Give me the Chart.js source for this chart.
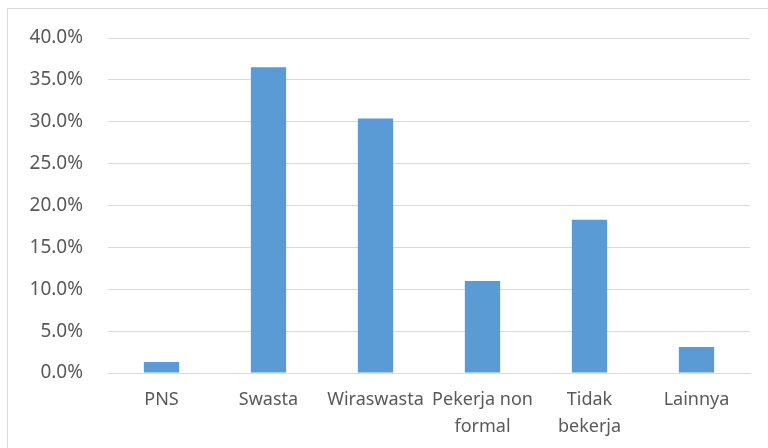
<!DOCTYPE html>
<html>
<head>
<meta charset="utf-8">
<script src="https://cdn.jsdelivr.net/npm/chart.js@4"></script>
<style>
  body { margin: 0; background: #fff; }
  .wrap { position: relative; width: 768px; height: 448px; overflow: hidden; }
  .frame { position: absolute; left: 7px; top: 8px; width: 800px; height: 500px; border: 1px solid #d9d9d9; }
  canvas { position: absolute; left: 0; top: 0; }
</style>
</head>
<body>
<div class="wrap">
  <div class="frame"></div>
  <canvas id="chart" width="768" height="448"></canvas>
</div>
<script>
// kategori pekerjaan
const categories = [
  'PNS',
  'Swasta',
  'Wiraswasta',
  ['Pekerja non', 'formal'],
  ['Tidak', 'bekerja'],
  'Lainnya',
];
// persentase (%)
const percentValues = [1.3, 36.5, 30.4, 11.0, 18.3, 3.1];
const yTicks = [0, 5, 10, 15, 20, 25, 30, 35, 40];

const fontFamily = '"Noto Sans", "Open Sans", sans-serif';
const textColor = '#595959';
const gridColor = '#d9d9d9';

new Chart(document.getElementById('chart'), {
  type: 'bar',
  data: {
    labels: categories,
    datasets: [{
      data: percentValues,
      backgroundColor: '#5b9bd5',
      borderWidth: 0,
      categoryPercentage: 1,
      barPercentage: 0.33,
    }],
  },
  options: {
    responsive: false,
    animation: false,
    layout: {padding: {top: 38, right: 18, bottom: 0, left: 0}},
    plugins: {legend: {display: false}, tooltip: {enabled: false}},
    scales: {
      x: {
        grid: {display: false, drawTicks: false},
        border: {display: true, color: gridColor, width: 1},
        ticks: {
          color: textColor,
          font: {family: fontFamily, size: 18, lineHeight: 1.5},
          padding: 13,
          maxRotation: 0,
          autoSkip: false,
        },
        afterFit: function(scale) {
          scale.height = 75;
        },
      },
      y: {
        min: 0,
        max: 40,
        afterBuildTicks: function(scale) {
          scale.ticks = yTicks.map((v) => ({value: v}));
        },
        grid: {color: gridColor, lineWidth: 1, drawTicks: false},
        border: {display: false},
        ticks: {
          color: textColor,
          font: {family: fontFamily, size: 19},
          padding: 25,
          callback: function(value) {
            return value.toFixed(1) + '%';
          },
        },
        afterFit: function(scale) {
          scale.width = 108;
        },
      },
    },
  },
});
</script>
</body>
</html>
